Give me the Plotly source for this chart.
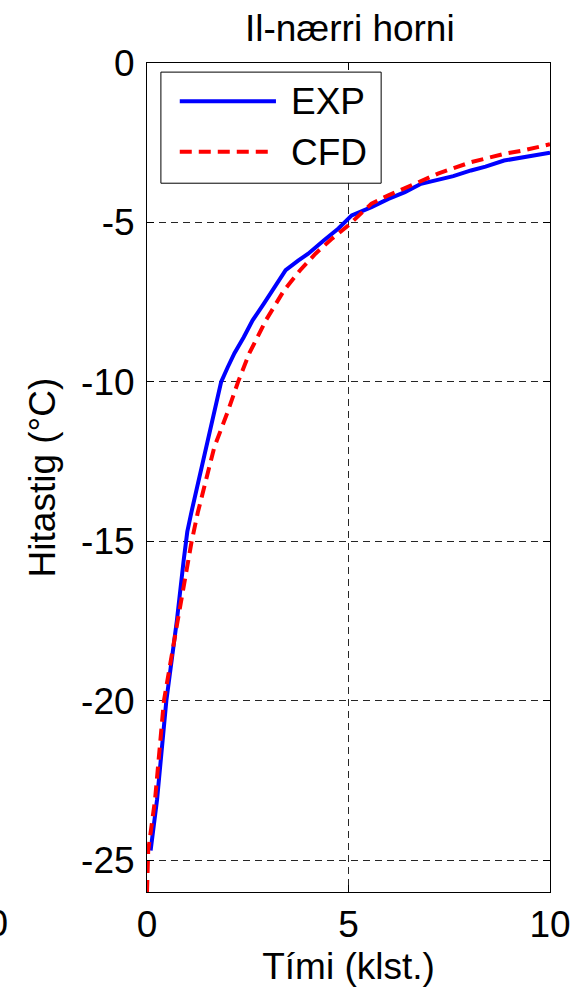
import plotly.graph_objects as go

# Measured temperature (EXP) and simulated temperature (CFD) over time
exp_time = [0.09, 0.25, 0.48, 0.74, 0.91, 1.00, 1.10, 1.30, 1.47, 1.74, 1.84, 2.00, 2.17, 2.40,
            2.62, 2.90, 3.19, 3.44, 3.75, 4.00, 4.40, 4.75, 5.08, 5.57, 5.99, 6.40, 6.80,
            7.22, 7.60, 8.04, 8.40, 8.86, 9.35, 10.0]
exp_temp = [-24.7, -23.1, -20.0, -17.5, -15.6, -14.7, -14.1, -13.0, -12.05, -10.58, -10.0, -9.55,
            -9.1, -8.6, -8.07, -7.55, -7.0, -6.5, -6.2, -5.98, -5.55, -5.19, -4.78, -4.52,
            -4.26, -4.05, -3.79, -3.68, -3.55, -3.37, -3.25, -3.06, -2.95, -2.81]

cfd_time = [0.0, 0.03, 0.20, 0.42, 0.76, 0.85, 1.10, 1.26, 1.67, 2.00, 2.26, 2.54, 2.95,
            3.40, 3.80, 4.18, 4.60, 5.00, 5.57, 5.99, 6.80, 7.22, 8.04, 8.86, 9.35, 10.0]
cfd_temp = [-26.0, -24.7, -23.1, -20.0, -17.5, -16.85, -15.06, -14.1, -12.05, -10.95, -10.0,
            -9.1, -8.07, -7.13, -6.5, -5.98, -5.5, -5.09, -4.41, -4.15, -3.68, -3.47, -3.11,
            -2.85, -2.74, -2.55]

x_ticks = [0, 5, 10]
y_ticks = [0, -5, -10, -15, -20, -25]

FONT = "Liberation Sans, Arial, sans-serif"
FS = 37
RED_DASH = "12px,7px"

fig = go.Figure()
fig.add_trace(go.Scatter(x=exp_time, y=exp_temp, mode="lines", name="EXP",
                         line=dict(color="#0000ff", width=4), showlegend=False))
fig.add_trace(go.Scatter(x=cfd_time, y=cfd_temp, mode="lines", name="CFD",
                         line=dict(color="#ff0000", width=4, dash=RED_DASH), showlegend=False))

axis_common = dict(
    showline=True, linecolor="black", linewidth=1, mirror="ticks",
    ticks="inside", ticklen=7, tickwidth=1, tickcolor="black",
    showgrid=True, gridcolor="#262626", gridwidth=1, griddash="7px,5px",
    zeroline=False, tickfont=dict(family=FONT, size=FS, color="black"),
)

fig.update_xaxes(range=[0, 10], tickvals=x_ticks, ticktext=[str(v) for v in x_ticks],
                 title=dict(text="Tími (klst.)", font=dict(family=FONT, size=FS, color="black"),
                            standoff=8),
                 **axis_common)
fig.update_yaxes(range=[-26, 0], tickvals=y_ticks, ticktext=[str(v) for v in y_ticks],
                 title=dict(text="Hitastig (°C)", font=dict(family=FONT, size=FS, color="black"),
                            standoff=14),
                 ticklabelstandoff=4,
                 **axis_common)

# Legend box drawn in paper coordinates
shapes = [
    dict(type="rect", xref="paper", yref="paper", x0=0.0345, x1=0.581, y0=0.855, y1=0.989,
         line=dict(color="black", width=1), fillcolor="white", layer="above"),
    dict(type="line", xref="paper", yref="paper", x0=0.0813, x1=0.320, y0=0.954, y1=0.954,
         line=dict(color="#0000ff", width=4), layer="above"),
    dict(type="line", xref="paper", yref="paper", x0=0.0813, x1=0.312, y0=0.893, y1=0.893,
         line=dict(color="#ff0000", width=4, dash=RED_DASH), layer="above"),
]
annotations = [
    dict(text="EXP", xref="paper", yref="paper", x=0.352, y=0.954, xanchor="left",
         yanchor="middle", showarrow=False, font=dict(family=FONT, size=FS, color="black")),
    dict(text="CFD", xref="paper", yref="paper", x=0.352, y=0.892, xanchor="left",
         yanchor="middle", showarrow=False, font=dict(family=FONT, size=FS, color="black")),
    # tick label of the neighbouring panel at the left edge
    dict(text="10", xref="paper", yref="paper", x=-0.340, y=0, yshift=-31, xanchor="right",
         yanchor="middle", showarrow=False, font=dict(family=FONT, size=FS, color="black")),
]

fig.update_layout(
    width=583, height=994,
    margin=dict(l=147, r=30, t=63, b=102),
    paper_bgcolor="white", plot_bgcolor="white",
    title=dict(text="Il-nærri horni", x=0.6, xanchor="center", y=0.972, yanchor="middle",
               font=dict(family=FONT, size=FS, color="black")),
    shapes=shapes, annotations=annotations,
)

fig.write_html("out.html")
